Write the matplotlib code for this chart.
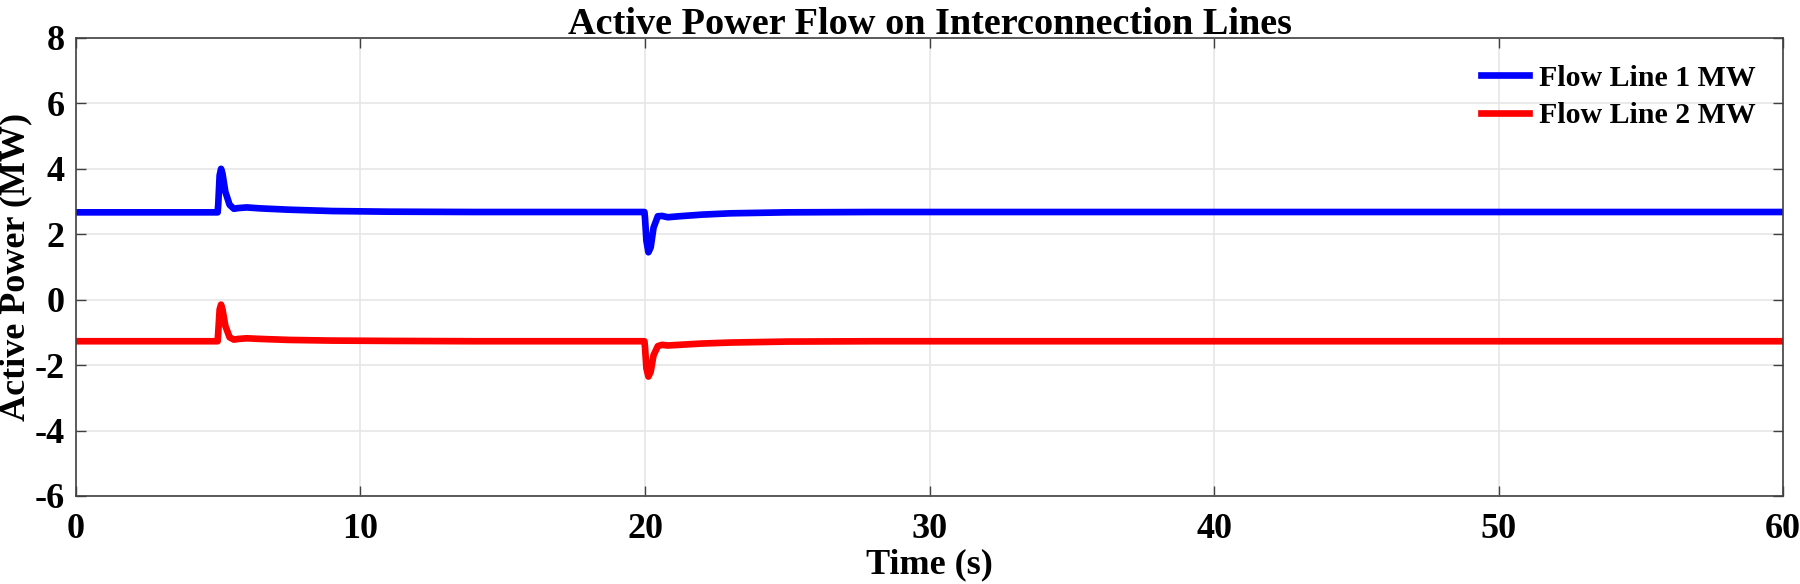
import matplotlib.pyplot as plt

# simulation time (s)
time = [0, 4.98, 5.0, 5.05, 5.1, 5.15, 5.25, 5.4, 5.55, 5.7, 6.0, 6.5, 7.5, 9, 11, 14, 17,
        19.98, 20.0, 20.05, 20.12, 20.2, 20.3, 20.45, 20.6, 20.8, 21.2, 22, 23, 25, 28, 60]

flow_line_1 = [2.67, 2.67, 2.9, 3.8, 4.0, 3.85, 3.3, 2.9, 2.78, 2.8, 2.82, 2.79, 2.75, 2.71,
               2.69, 2.68, 2.68, 2.68, 2.5, 1.8, 1.45, 1.6, 2.2, 2.55, 2.56, 2.52, 2.55, 2.6,
               2.64, 2.67, 2.68, 2.68]

flow_line_2 = [-1.27, -1.27, -1.0, -0.3, -0.15, -0.3, -0.8, -1.15, -1.22, -1.2, -1.18, -1.2,
               -1.23, -1.25, -1.26, -1.27, -1.27, -1.27, -1.45, -2.1, -2.35, -2.2, -1.7, -1.42,
               -1.38, -1.4, -1.38, -1.34, -1.31, -1.28, -1.27, -1.27]

x_ticks = [0, 10, 20, 30, 40, 50, 60]
y_ticks = [-6, -4, -2, 0, 2, 4, 6, 8]


def main():
    plt.rcParams['font.family'] = ['Liberation Serif', 'DejaVu Serif']
    plt.rcParams['font.weight'] = 'bold'
    plt.rcParams['axes.unicode_minus'] = False

    fig = plt.figure(figsize=(18, 5.84), dpi=100)
    ax = fig.add_axes([0.0422, 0.1507, 0.9484, 0.7843])

    ax.plot(time, flow_line_1, color='#0000ff', linewidth=4.8, label='Flow Line 1 MW')
    ax.plot(time, flow_line_2, color='#ff0000', linewidth=4.8, label='Flow Line 2 MW')

    ax.set_xlim(0, 60)
    ax.set_ylim(-6, 8)
    ax.set_xticks(x_ticks)
    ax.set_yticks(y_ticks)
    ax.grid(True, color='#e6e6e6', linewidth=1.2)
    ax.set_axisbelow(True)

    for spine in ax.spines.values():
        spine.set_color('#404040')
        spine.set_linewidth(1.2)
    ax.tick_params(direction='in', length=7, width=1.0, color='#404040',
                   top=True, right=True, labelsize=26)
    ax.tick_params(axis='x', pad=12)
    ax.tick_params(axis='y', pad=8)
    for lbl in ax.get_xticklabels() + ax.get_yticklabels():
        lbl.set_fontweight('bold')

    ax.set_xlabel('Time (s)', fontsize=26, fontweight='bold', labelpad=2)
    ax.set_ylabel('Active Power (MW)', fontsize=26, fontweight='bold')
    ax.yaxis.set_label_coords(-0.0258, 0.5)
    ax.set_title('Active Power Flow on Interconnection Lines', fontsize=27.5,
                 fontweight='bold', pad=3)

    leg = ax.legend(loc='upper right', frameon=False, fontsize=21.5, handlelength=1.6,
                    handletextpad=0.35, labelspacing=0.35, borderaxespad=0.5)
    for t in leg.get_texts():
        t.set_fontweight('bold')

    plt.savefig('out.png', dpi=100)


if __name__ == '__main__':
    main()
